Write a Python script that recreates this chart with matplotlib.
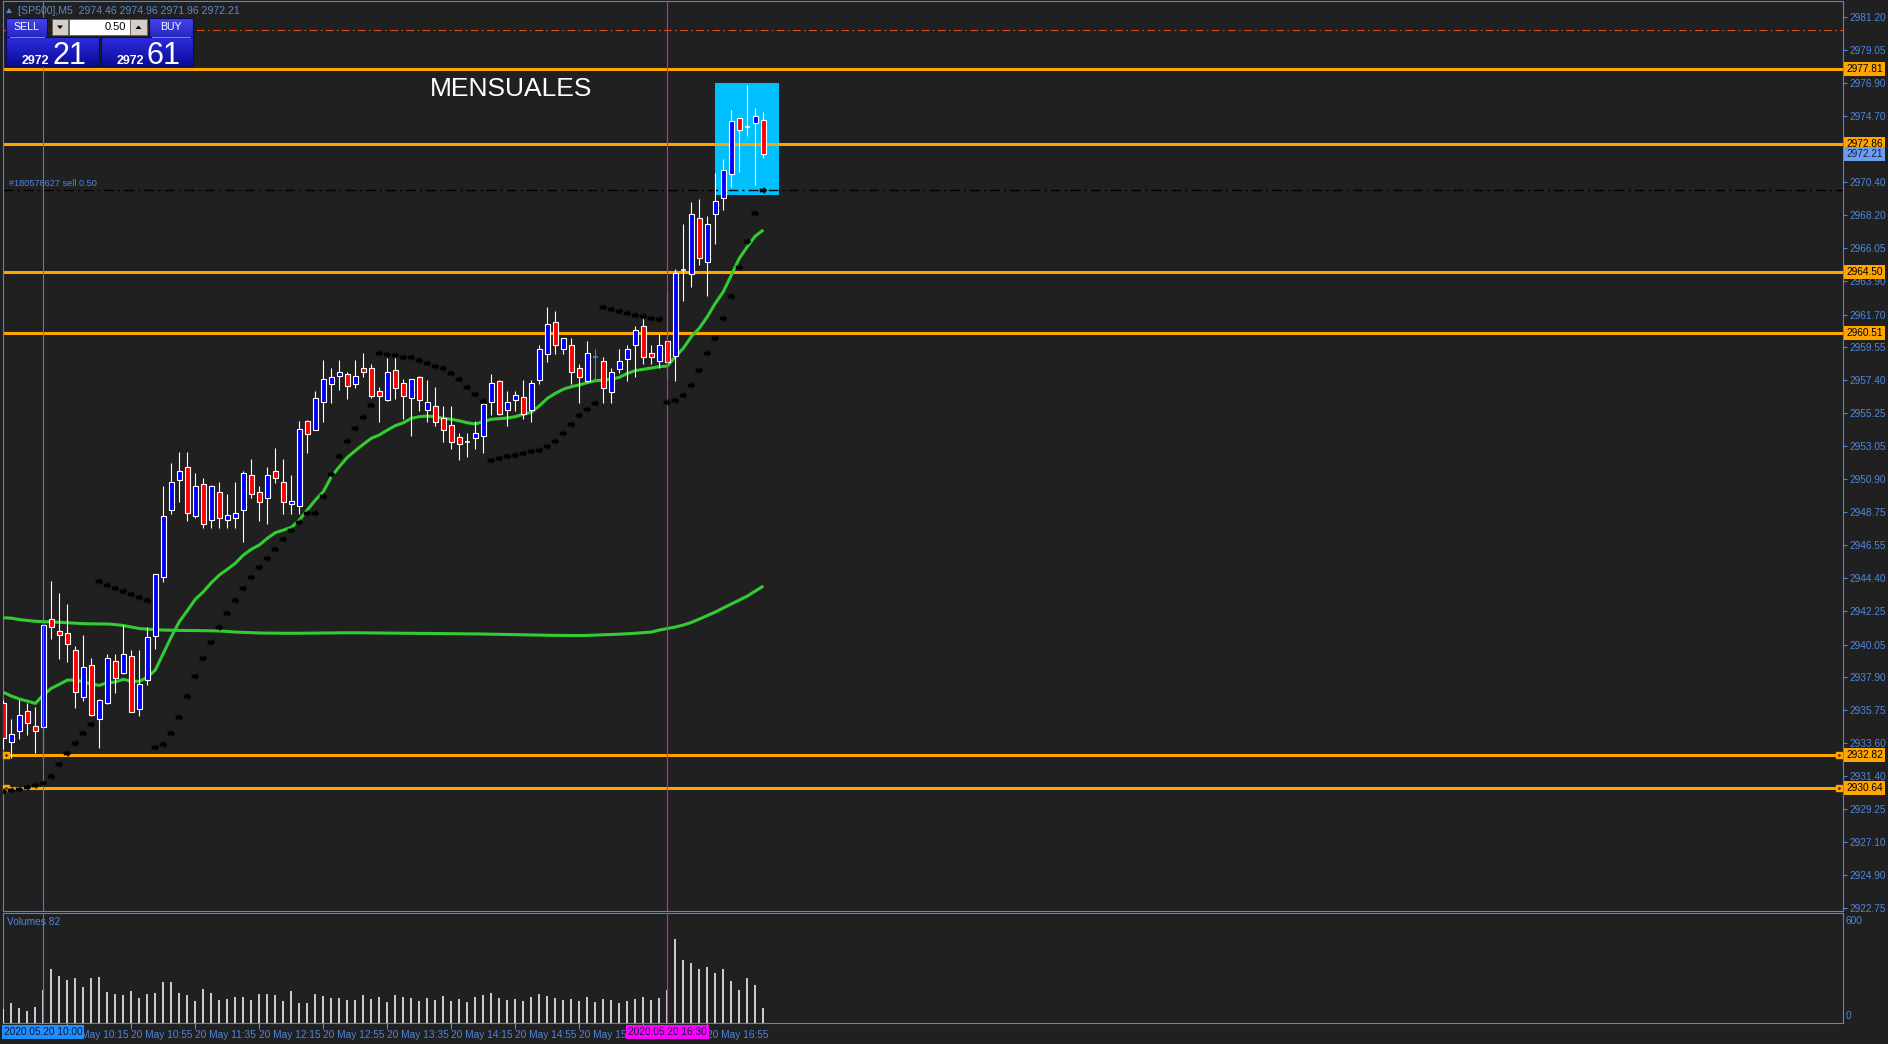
import numpy as np
import pandas as pd
import matplotlib
matplotlib.use('Agg')
import matplotlib.pyplot as plt
from matplotlib.patches import Rectangle, Polygon
from matplotlib.colors import LinearSegmentedColormap
from matplotlib.path import Path
import matplotlib.transforms as mtransforms

# ---------------- data ----------------
times = pd.date_range('2020-05-20 09:35', periods=96, freq='5min')

opens = [2936.19, 2933.68, 2934.40, 2935.67, 2934.71, 2934.66, 2941.70, 2940.92, 2940.79, 2939.67,
         2936.63, 2938.69, 2935.14, 2936.19, 2938.95, 2938.16, 2939.28, 2935.80, 2937.72, 2940.63,
         2944.46, 2948.90, 2950.82, 2951.68, 2948.51, 2950.56, 2948.20, 2950.04, 2948.20, 2948.37,
         2948.90, 2951.15, 2950.03, 2949.64, 2951.43, 2950.69, 2949.29, 2949.16, 2954.71, 2954.15,
         2955.94, 2957.16, 2957.64, 2957.78, 2957.16, 2958.17, 2958.17, 2956.68, 2956.07, 2958.04,
         2957.21, 2956.20, 2957.60, 2955.41, 2955.68, 2954.89, 2954.45, 2953.66, 2953.36, 2953.62,
         2953.75, 2955.94, 2957.34, 2955.41, 2956.07, 2956.29, 2955.41, 2957.38, 2959.13, 2961.19,
         2959.42, 2959.68, 2958.17, 2957.36, 2958.89, 2958.65, 2956.64, 2958.15, 2958.76, 2959.68,
         2960.95, 2959.16, 2958.63, 2959.94, 2959.00, 2964.62, 2964.34, 2968.01, 2965.17, 2968.28,
         2969.37, 2970.89, 2974.57, 2974.02, 2974.24, 2974.46]
highs = [2936.40, 2935.16, 2936.41, 2936.19, 2935.97, 2941.92, 2944.22, 2943.43, 2942.71, 2939.95,
         2940.68, 2939.15, 2936.45, 2939.43, 2939.43, 2941.31, 2939.69, 2939.69, 2941.18, 2944.70,
         2950.45, 2951.96, 2952.66, 2952.66, 2951.28, 2950.95, 2950.50, 2950.69, 2949.91, 2950.69,
         2951.41, 2952.22, 2950.47, 2951.70, 2952.96, 2952.22, 2951.17, 2954.71, 2954.75, 2956.68,
         2958.69, 2958.17, 2958.69, 2957.91, 2958.69, 2959.17, 2958.43, 2956.94, 2958.82, 2958.91,
         2957.47, 2957.50, 2957.64, 2957.38, 2956.94, 2955.68, 2955.68, 2953.93, 2953.93, 2954.71,
         2955.94, 2957.82, 2957.38, 2956.68, 2956.68, 2957.38, 2957.38, 2959.70, 2962.20, 2961.93,
         2960.16, 2960.14, 2958.46, 2959.96, 2959.44, 2958.94, 2958.17, 2959.42, 2959.70, 2960.95,
         2961.45, 2959.70, 2960.40, 2963.20, 2964.69, 2967.64, 2969.06, 2969.28, 2968.17, 2970.97,
         2971.90, 2975.12, 2974.60, 2976.76, 2975.25, 2974.96]
lows = [2933.20, 2932.63, 2933.85, 2934.12, 2932.91, 2932.58, 2940.41, 2939.10, 2938.93, 2935.91,
        2936.37, 2935.35, 2933.28, 2936.15, 2936.89, 2938.10, 2935.60, 2935.36, 2937.40, 2939.76,
        2944.18, 2948.64, 2949.43, 2948.18, 2948.37, 2947.67, 2947.67, 2947.67, 2947.67, 2947.67,
        2946.80, 2949.64, 2948.15, 2947.93, 2950.65, 2948.63, 2948.63, 2948.63, 2952.61, 2954.10,
        2954.67, 2955.90, 2956.77, 2956.16, 2956.90, 2957.60, 2956.20, 2954.67, 2956.00, 2956.16,
        2954.84, 2953.75, 2955.37, 2954.67, 2954.41, 2953.36, 2952.88, 2952.13, 2952.35, 2952.88,
        2952.61, 2955.11, 2955.10, 2954.41, 2955.37, 2954.84, 2954.67, 2957.16, 2958.61, 2959.09,
        2959.11, 2957.14, 2955.92, 2957.30, 2957.30, 2955.92, 2955.92, 2957.89, 2957.36, 2957.62,
        2958.46, 2958.46, 2958.17, 2957.47, 2957.36, 2962.61, 2963.53, 2964.95, 2962.92, 2966.33,
        2968.56, 2970.09, 2971.07, 2973.43, 2970.22, 2971.96]
closes = [2933.90, 2934.16, 2935.41, 2934.92, 2934.40, 2941.33, 2941.18, 2940.65, 2940.06, 2936.91,
          2938.55, 2935.41, 2936.39, 2939.15, 2937.88, 2939.41, 2935.65, 2937.44, 2940.52, 2944.66,
          2948.46, 2950.69, 2951.41, 2948.66, 2950.43, 2947.94, 2950.43, 2948.37, 2948.53, 2948.66,
          2951.28, 2949.91, 2949.42, 2951.17, 2950.95, 2949.42, 2949.46, 2954.19, 2953.88, 2956.20,
          2957.47, 2957.60, 2957.91, 2957.03, 2957.64, 2957.91, 2956.38, 2956.38, 2957.91, 2956.90,
          2956.38, 2957.47, 2956.11, 2955.94, 2954.67, 2954.15, 2953.36, 2953.18, 2953.36, 2953.93,
          2955.81, 2957.21, 2955.15, 2955.94, 2956.42, 2955.15, 2957.21, 2959.44, 2961.06, 2959.68,
          2960.14, 2957.91, 2957.62, 2959.16, 2958.89, 2956.90, 2957.91, 2958.63, 2959.42, 2960.66,
          2958.89, 2958.89, 2959.68, 2958.59, 2964.40, 2964.62, 2968.28, 2965.43, 2967.62, 2969.13,
          2971.16, 2974.37, 2973.78, 2974.02, 2974.70, 2972.21]

sar = [2930.45, 2930.52, 2930.60, 2930.72, 2930.83, 2930.94, 2931.40, 2932.19, 2932.91, 2933.57,
       2934.22, 2934.81, 2944.20, 2943.94, 2943.74, 2943.55, 2943.35, 2943.15, 2942.95, 2933.31,
       2933.50, 2934.22, 2935.28, 2936.65, 2937.97, 2939.15, 2940.20, 2941.18, 2942.10, 2942.95,
       2943.74, 2944.46, 2945.12, 2945.73, 2946.30, 2946.95, 2947.54, 2948.07, 2948.66, 2948.66,
       2949.77, 2951.22, 2952.40, 2953.38, 2954.24, 2954.96, 2955.74, 2959.16, 2959.09, 2959.02,
       2958.89, 2958.89, 2958.70, 2958.50, 2958.30, 2958.17, 2957.84, 2957.45, 2956.93, 2956.47,
       2956.01, 2952.14, 2952.27, 2952.40, 2952.46, 2952.60, 2952.73, 2952.79, 2953.05, 2953.40,
       2953.93, 2954.52, 2955.09, 2955.48, 2955.88, 2962.19, 2962.04, 2961.91, 2961.78, 2961.65,
       2961.58, 2961.45, 2961.39, 2955.94, 2956.09, 2956.40, 2957.06, 2958.04, 2959.16, 2960.14,
       2961.45, 2962.90, 2964.84, 2966.51, 2968.34, 2969.85]

ma_fast = [2936.92, 2936.67, 2936.48, 2936.34, 2936.19, 2936.74, 2937.18, 2937.44, 2937.72, 2937.72,
           2937.61, 2937.46, 2937.37, 2937.55, 2937.59, 2937.77, 2937.64, 2937.64, 2937.90, 2938.38,
           2939.47, 2940.56, 2941.55, 2942.27, 2943.02, 2943.51, 2944.11, 2944.61, 2944.99, 2945.38,
           2945.92, 2946.30, 2946.58, 2947.02, 2947.39, 2947.56, 2947.74, 2948.22, 2948.88, 2949.53,
           2950.08, 2951.06, 2951.72, 2952.33, 2952.77, 2953.19, 2953.58, 2953.80, 2954.12, 2954.41,
           2954.60, 2954.89, 2955.00, 2955.04, 2955.00, 2954.89, 2954.83, 2954.73, 2954.60, 2954.52,
           2954.67, 2954.83, 2954.87, 2954.91, 2955.00, 2955.16, 2955.29, 2955.71, 2956.20, 2956.53,
           2956.80, 2956.97, 2957.08, 2957.23, 2957.36, 2957.41, 2957.45, 2957.58, 2957.84, 2958.02,
           2958.11, 2958.19, 2958.28, 2958.32, 2958.93, 2959.49, 2960.25, 2960.80, 2961.56, 2962.44,
           2963.20, 2964.29, 2965.39, 2966.15, 2966.85, 2967.25]

ma_slow = [2941.81, 2941.78, 2941.69, 2941.63, 2941.58, 2941.55, 2941.53, 2941.51, 2941.48, 2941.45,
           2941.42, 2941.41, 2941.40, 2941.40, 2941.36, 2941.30, 2941.20, 2941.10, 2941.06, 2941.03,
           2941.00, 2940.99, 2940.98, 2940.97, 2940.97, 2940.96, 2940.95, 2940.94, 2940.91, 2940.87,
           2940.85, 2940.83, 2940.81, 2940.80, 2940.80, 2940.79, 2940.79, 2940.79, 2940.80, 2940.80,
           2940.81, 2940.81, 2940.82, 2940.82, 2940.82, 2940.82, 2940.81, 2940.81, 2940.80, 2940.80,
           2940.79, 2940.79, 2940.78, 2940.78, 2940.77, 2940.77, 2940.76, 2940.76, 2940.75, 2940.75,
           2940.74, 2940.73, 2940.72, 2940.71, 2940.70, 2940.69, 2940.68, 2940.67, 2940.66, 2940.65,
           2940.65, 2940.64, 2940.64, 2940.65, 2940.67, 2940.69, 2940.71, 2940.73, 2940.76, 2940.79,
           2940.83, 2940.87, 2941.00, 2941.10, 2941.20, 2941.33, 2941.50, 2941.72, 2941.95, 2942.18,
           2942.45, 2942.71, 2942.97, 2943.23, 2943.56, 2943.89]

volumes = [76, 109, 82, 65, 87, 180, 295, 256, 235, 245,
           196, 245, 251, 169, 158, 153, 175, 136, 158, 164,
           224, 224, 164, 153, 120, 185, 164, 125, 131, 142,
           142, 125, 158, 158, 153, 120, 175, 109, 109, 158,
           147, 136, 136, 125, 125, 153, 131, 142, 115, 153,
           142, 136, 120, 136, 125, 147, 120, 131, 115, 142,
           153, 164, 136, 125, 131, 120, 142, 158, 147, 136,
           125, 131, 120, 142, 115, 131, 125, 109, 120, 131,
           142, 125, 136, 180, 458, 344, 327, 295, 305, 273,
           295, 229, 180, 245, 207, 82]

levels = [2977.81, 2972.86, 2964.50, 2960.51, 2932.82, 2930.64]
selected_levels = [2932.82, 2930.64]
order_price = 2969.85
order_text = '#180578627 sell 0.50'
stop_price = 2980.37
bid_price = 2972.21
ask_price = 2972.61
box_bars = (89, 97)
box_prices = (2969.54, 2976.89)
marker_bar = 74
vline_blue_bar = 5
vline_magenta_bar = 83
price_ticks = [2922.75, 2924.90, 2927.10, 2929.25, 2931.40, 2933.60, 2935.75, 2937.90, 2940.05,
               2942.25, 2944.40, 2946.55, 2948.75, 2950.90, 2953.05, 2955.25, 2957.40, 2959.55,
               2961.70, 2963.90, 2966.05, 2968.20, 2970.40, 2974.70, 2976.90, 2979.05, 2981.20]
time_tick_bars = [8, 16, 24, 32, 40, 48, 56, 64, 72, 80, 88]
hidden_time_labels = [80]
header = '[SP500],M5  2974.46 2974.96 2971.96 2972.21'
title_text = 'MENSUALES'
title_pos = (53.3, 2976.5)
volume_label = 'Volumes 82'

# ---------------- style ----------------
W, H = 1888, 1044
BG = '#202020'
AXC = '#4a86e8'
TXT = '#4f86dc'
ORANGE = '#ffa500'
GREEN = '#32cd32'
FONT = 'Liberation Sans'
LS = 7.3
plt.rcParams['font.family'] = [FONT, 'DejaVu Sans']

fig = plt.figure(figsize=(W / 100, H / 100), dpi=100, facecolor=BG)

def fx(px):
    return px / W

def fy(py):
    return 1 - py / H

ax = fig.add_axes([fx(3), fy(911), fx(1843) - fx(3), fy(1) - fy(911)], facecolor=BG)
axv = fig.add_axes([fx(3), fy(1023), fx(1843) - fx(3), fy(913) - fy(1023)], facecolor=BG)

XL = (-0.04, 229.96)
for a in (ax, axv):
    a.set_xlim(*XL)
    for s in a.spines.values():
        s.set_color(AXC)
        s.set_linewidth(0.8)
ax.set_ylim(2922.57, 2982.27)
axv.set_ylim(0, 600)

k = np.arange(len(opens))
o = np.array(opens); h = np.array(highs); l = np.array(lows); c = np.array(closes)
up = c > o
dn = c < o
dj = c == o

# background objects
ax.add_patch(Rectangle((box_bars[0], box_prices[0]), box_bars[1] - box_bars[0],
                       box_prices[1] - box_prices[0], facecolor='#00bfff', edgecolor='none', zorder=1))
for lv in levels:
    ax.axhline(lv, color=ORANGE, lw=2.2, zorder=2)
ax.axhline(order_price, color='black', lw=1.0, dashes=(7, 3, 1.5, 3), zorder=2)
ax.axhline(stop_price, color='#e04a1c', lw=0.8, dashes=(7, 3, 1.5, 3), zorder=2)
for lv in selected_levels:
    ax.plot([0.35, 229.45], [lv, lv], ls='none', marker='s', ms=4.5, color=ORANGE,
            clip_on=False, zorder=3)
    ax.plot([0.35, 229.45], [lv, lv], ls='none', marker='o', ms=0.8, color='#222222',
            clip_on=False, zorder=3)

# vertical lines
for a in (ax, axv):
    a.axvline(vline_blue_bar, color='#3a80ea', lw=0.8, zorder=6)
    a.axvline(vline_magenta_bar, color='#ff00ff', lw=0.8, zorder=6)

# moving averages
ax.plot(k, ma_slow, color=GREEN, lw=2.2, zorder=3, solid_capstyle='butt')
ax.plot(k, ma_fast, color=GREEN, lw=2.2, zorder=3, solid_capstyle='butt')

# candles
wick_colors = ['#5b7fc4' if i == marker_bar else 'white' for i in k]
ax.vlines(k, l, h, colors=wick_colors, lw=0.8, zorder=4)
ax.bar(k[up], (c - o)[up], bottom=o[up], width=0.62, color='#0000ff', edgecolor='white',
       linewidth=0.8, zorder=5)
ax.bar(k[dn], (o - c)[dn], bottom=c[dn], width=0.62, color='#ff0000', edgecolor='white',
       linewidth=0.8, zorder=5)
ax.hlines(o[dj], k[dj] - 0.33, k[dj] + 0.33, colors=[wick_colors[i] for i in k[dj]],
          lw=1.1, zorder=5)

# parabolic SAR (small arrow glyphs)
arrow = Path([(-1, -0.5), (0.05, -0.5), (0.05, -1), (1, 0), (0.05, 1), (0.05, 0.5), (-1, 0.5), (-1, -0.5)],
             [Path.MOVETO] + [Path.LINETO] * 6 + [Path.CLOSEPOLY])
ax.plot(k, sar, ls='none', marker=arrow, ms=5.4, color='black', mew=0, zorder=6)

# texts in chart
ax.text(title_pos[0], title_pos[1], title_text, color='white', fontsize=19, ha='left',
        va='center', zorder=7)
tb = mtransforms.blended_transform_factory(ax.transAxes, ax.transData)
ax.text(0.0035, order_price + 0.12, order_text, transform=tb, color=TXT, fontsize=6.6,
        ha='left', va='bottom', zorder=7)

# price axis
ax.yaxis.tick_right()
ax.set_yticks(price_ticks)
ax.set_yticklabels([f'{v:.2f}' for v in price_ticks])
ax.tick_params(axis='y', colors=AXC, labelcolor=TXT, length=3, width=0.8, pad=1.8, labelsize=LS)
ax.set_xticks([])

# price boxes
bt = mtransforms.blended_transform_factory(fig.transFigure, ax.transData)
for lv in levels:
    ax.text(fx(1846.5), lv, f'{lv:.2f}', transform=bt, fontsize=LS, color='black', ha='left',
            va='center', clip_on=False, zorder=8,
            bbox=dict(boxstyle='square,pad=0.2', fc=ORANGE, ec='none'))
ax.text(fx(1846.5), bid_price, f'{bid_price:.2f}', transform=bt, fontsize=LS, color='#14204a',
        ha='left', va='center', clip_on=False, zorder=8,
        bbox=dict(boxstyle='square,pad=0.2', fc='#6d9eeb', ec='none'))

# volume pane
axv.vlines(k, 0, volumes, colors='white', lw=1.1, zorder=3)
axv.set_yticks([])
axv.set_xticks(time_tick_bars)
axv.set_xticklabels(['' if i in hidden_time_labels else f'{times[i].day} May {times[i]:%H:%M}'
                     for i in time_tick_bars])
axv.tick_params(axis='x', colors=AXC, labelcolor=TXT, length=4, width=0.8, pad=1.2, labelsize=LS)
for lbl in axv.get_xticklabels():
    lbl.set_horizontalalignment('left')

xt = mtransforms.blended_transform_factory(axv.transData, fig.transFigure)
axv.text(vline_blue_bar, fy(1032), f'{times[vline_blue_bar]:%Y.%m.%d %H:%M}', transform=xt,
         fontsize=LS, color='#0d1838', ha='center', va='center', clip_on=False, zorder=9,
         bbox=dict(boxstyle='square,pad=0.18', fc='#1e90ff', ec='none'))
axv.text(vline_magenta_bar, fy(1032), f'{times[vline_magenta_bar]:%Y.%m.%d %H:%M}', transform=xt,
         fontsize=LS, color='#0d1838', ha='center', va='center', clip_on=False, zorder=9,
         bbox=dict(boxstyle='square,pad=0.18', fc='#ff00ff', ec='none'))

# ---------------- overlay (terminal UI) ----------------
ov = fig.add_axes([0, 0, 1, 1], facecolor='none', zorder=20)
ov.set_xlim(0, W)
ov.set_ylim(H, 0)
ov.axis('off')

ov.text(1846, 921, '600', color=TXT, fontsize=LS, ha='left', va='center')
ov.text(1846, 1016, '0', color=TXT, fontsize=LS, ha='left', va='center')
ov.text(7, 922, volume_label, color=TXT, fontsize=LS, ha='left', va='center')

ov.add_patch(Polygon([[6, 13], [12, 13], [9, 8]], closed=True, fc='#5f88c8', ec='none'))
ov.text(18, 10.5, header, color='#5f88c8', fontsize=7.6, ha='left', va='center')


def grad_rect(x0, y0, x1, y1, ctop, cbot, edge='#0a0a60'):
    cmap = LinearSegmentedColormap.from_list('g', [ctop, cbot])
    ov.imshow(np.linspace(0, 1, 64).reshape(-1, 1), cmap=cmap, extent=(x0, x1, y1, y0),
              aspect='auto', interpolation='bilinear', zorder=1)
    ov.add_patch(Rectangle((x0, y0), x1 - x0, y1 - y0, fc='none', ec=edge, lw=0.8, zorder=2))


grad_rect(6, 18, 47, 37, '#4646ee', '#2626c0')
grad_rect(149, 18, 193, 37, '#4646ee', '#2626c0')
grad_rect(6, 37, 99, 66, '#2c2ce0', '#0c0c96')
grad_rect(101, 37, 193, 66, '#2c2ce0', '#0c0c96')
ov.plot([10, 44], [36.5, 36.5], color='#9a9aff', lw=0.6, zorder=3)
ov.plot([152, 190], [36.5, 36.5], color='#9a9aff', lw=0.6, zorder=3)
ov.text(26.5, 26.5, 'SELL', color='white', fontsize=7.6, ha='center', va='center', zorder=4)
ov.text(171, 26.5, 'BUY', color='white', fontsize=7.6, ha='center', va='center', zorder=4)

ov.add_patch(Rectangle((52, 19), 16, 16, fc='#d4d0c8', ec='#606060', lw=0.6, zorder=2))
ov.add_patch(Rectangle((69, 19), 61, 16, fc='white', ec='#606060', lw=0.6, zorder=2))
ov.add_patch(Rectangle((130, 19), 17, 16, fc='#d4d0c8', ec='#606060', lw=0.6, zorder=2))
ov.add_patch(Polygon([[57, 25.5], [63, 25.5], [60, 29]], closed=True, fc='black', zorder=3))
ov.add_patch(Polygon([[135.5, 29], [141.5, 29], [138.5, 25.5]], closed=True, fc='black', zorder=3))
ov.text(126, 27, '0.50', color='black', fontsize=8, ha='right', va='center', zorder=4)

bid_big, bid_small = f'{bid_price:.2f}'.split('.')
ask_big, ask_small = f'{ask_price:.2f}'.split('.')
ov.text(49, 64, bid_big, color='white', fontsize=9, fontweight='bold', ha='right', va='baseline', zorder=4)
ov.text(52, 64, bid_small, color='white', fontsize=22, ha='left', va='baseline', zorder=4)
ov.text(144, 64, ask_big, color='white', fontsize=9, fontweight='bold', ha='right', va='baseline', zorder=4)
ov.text(147, 64, ask_small, color='white', fontsize=22, ha='left', va='baseline', zorder=4)

fig.savefig('out.png', dpi=100, facecolor=BG)
